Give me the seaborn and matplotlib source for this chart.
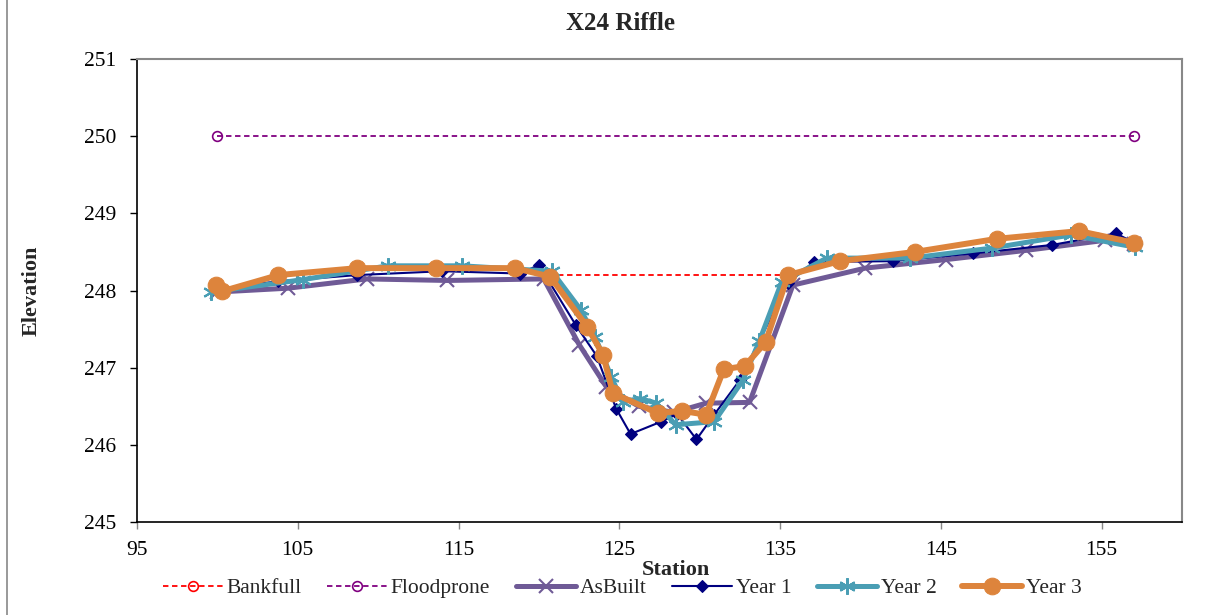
import numpy as np
import pandas as pd
import matplotlib.pyplot as plt
import seaborn as sns
from matplotlib.lines import Line2D

# survey data
bankfull_x = [120.6, 135.5]
bankfull_y = [248.2, 248.2]
floodprone_x = [100.0, 157.0]
floodprone_y = [250.0, 250.0]

asbuilt_x = [100.0, 104.4, 109.3, 114.3, 120.3, 122.5, 124.2, 126.2, 128.4, 130.4, 133.1,
             135.8, 140.3, 145.3, 150.3, 155.2, 157.0]
asbuilt_y = [247.98, 248.03, 248.15, 248.13, 248.15, 247.3, 246.75, 246.5, 246.42, 246.54, 246.55,
             248.07, 248.29, 248.4, 248.52, 248.65, 248.6]

year1_x = [100.0, 103.8, 108.7, 114.0, 118.8, 120.0, 122.3, 123.6, 124.8, 125.7, 127.6, 128.6,
           129.8, 130.9, 132.5, 135.5, 137.1, 142.0, 147.0, 151.9, 155.9, 157.0]
year1_y = [248.02, 248.12, 248.2, 248.25, 248.22, 248.33, 247.55, 247.15, 246.47, 246.14, 246.3, 246.4,
           246.07, 246.39, 246.84, 248.1, 248.37, 248.38, 248.48, 248.59, 248.74, 248.62]

year2_x = [99.6, 105.3, 110.6, 115.2, 120.8, 122.6, 123.5, 124.5, 125.2, 126.3, 127.3, 128.5,
           130.9, 132.7, 133.7, 135.1, 137.9, 143.1, 148.2, 153.1, 157.1]
year2_y = [247.98, 248.14, 248.32, 248.32, 248.25, 247.75, 247.4, 246.88, 246.56, 246.6, 246.54, 246.26,
           246.3, 246.84, 247.34, 248.11, 248.42, 248.42, 248.55, 248.72, 248.56]

year3_x = [99.9, 100.3, 103.8, 108.7, 113.6, 118.5, 120.7, 123.0, 124.0, 124.6, 127.4, 128.9,
           130.4, 131.5, 132.8, 134.1, 135.5, 138.7, 143.4, 148.5, 153.6, 157.0]
year3_y = [248.07, 247.99, 248.2, 248.29, 248.29, 248.29, 248.18, 247.53, 247.16, 246.67, 246.41, 246.44,
           246.39, 246.98, 247.02, 247.33, 248.2, 248.38, 248.5, 248.67, 248.77, 248.62]

sns.set_style("white")
plt.rcParams['font.family'] = ['Liberation Serif', 'DejaVu Serif']

fig = plt.figure(figsize=(12.27, 6.15), dpi=100)
ax = fig.add_axes([137 / 1227, 1 - 522 / 615, (1182 - 137) / 1227, (522 - 59) / 615])

sns.lineplot(x=bankfull_x, y=bankfull_y, ax=ax, color="#FF0000", lw=1.3, dashes=(3, 2),
             marker="o", markersize=7, markerfacecolor="none", markeredgecolor="#FF0000",
             markeredgewidth=1.2, sort=False, estimator=None, label="Bankfull")
sns.lineplot(x=floodprone_x, y=floodprone_y, ax=ax, color="#800080", lw=1.3, dashes=(3, 2),
             marker="o", markersize=7, markerfacecolor="none", markeredgecolor="#800080",
             markeredgewidth=1.2, sort=False, estimator=None, label="Floodprone")
sns.lineplot(x=asbuilt_x, y=asbuilt_y, ax=ax, color="#6F5A96", lw=3.6,
             marker="x", markersize=10, markeredgewidth=1.5, markeredgecolor="#6F5A96",
             sort=False, estimator=None, label="AsBuilt")
sns.lineplot(x=year1_x, y=year1_y, ax=ax, color="#000080", lw=1.5,
             marker="D", markersize=6, markeredgecolor="#000080", markerfacecolor="#000080",
             sort=False, estimator=None, label="Year 1")
sns.lineplot(x=year2_x, y=year2_y, ax=ax, color="#4A9EB4", lw=3.6,
             marker=(6, 2, 0), markersize=12, markeredgewidth=1.5, markeredgecolor="#4A9EB4",
             sort=False, estimator=None, label="Year 2")
sns.lineplot(x=year3_x, y=year3_y, ax=ax, color="#DD843C", lw=4.3,
             marker="o", markersize=12, markeredgecolor="#DD843C", markerfacecolor="#DD843C",
             sort=False, estimator=None, label="Year 3")

ax.set_xlim(95, 160)
ax.set_ylim(245, 251)
ax.set_xticks(np.arange(95, 160, 10))
ax.set_yticks(np.arange(245, 252, 1))
ax.tick_params(axis="both", which="both", direction="out", length=5, width=1,
               labelsize=15.5, colors="black", left=True, bottom=True)
ax.tick_params(axis="x", color="#888888", pad=9)
ax.tick_params(axis="y", pad=10)

for side in ["top", "right"]:
    ax.spines[side].set_color("#888888")
    ax.spines[side].set_linewidth(1.5)
for side in ["left", "bottom"]:
    ax.spines[side].set_color("black")
    ax.spines[side].set_linewidth(1.2)

ax.set_xlabel("Station", fontsize=16, fontweight="bold")
ax.set_ylabel("Elevation", fontsize=16, fontweight="bold")
ax.xaxis.set_label_coords((676 - 137) / 1045, -0.083)
ax.yaxis.set_label_coords((42 - 137) / 1045, 0.5)

fig.text(621 / 1227, 1 - 24 / 615, "X24 Riffle", ha="center", va="center",
         fontsize=18, fontweight="bold")

ax.legend(loc="center", bbox_to_anchor=(622 / 1227, 1 - 588 / 615),
          bbox_transform=fig.transFigure, ncol=6, frameon=False, fontsize=15.5,
          handlelength=2.8, columnspacing=1.2, handletextpad=0.15)

fig.add_artist(Line2D([7 / 1227, 7 / 1227], [0, 1], transform=fig.transFigure,
                      color="#888888", lw=1.2))

fig.savefig("out.png", dpi=100)
